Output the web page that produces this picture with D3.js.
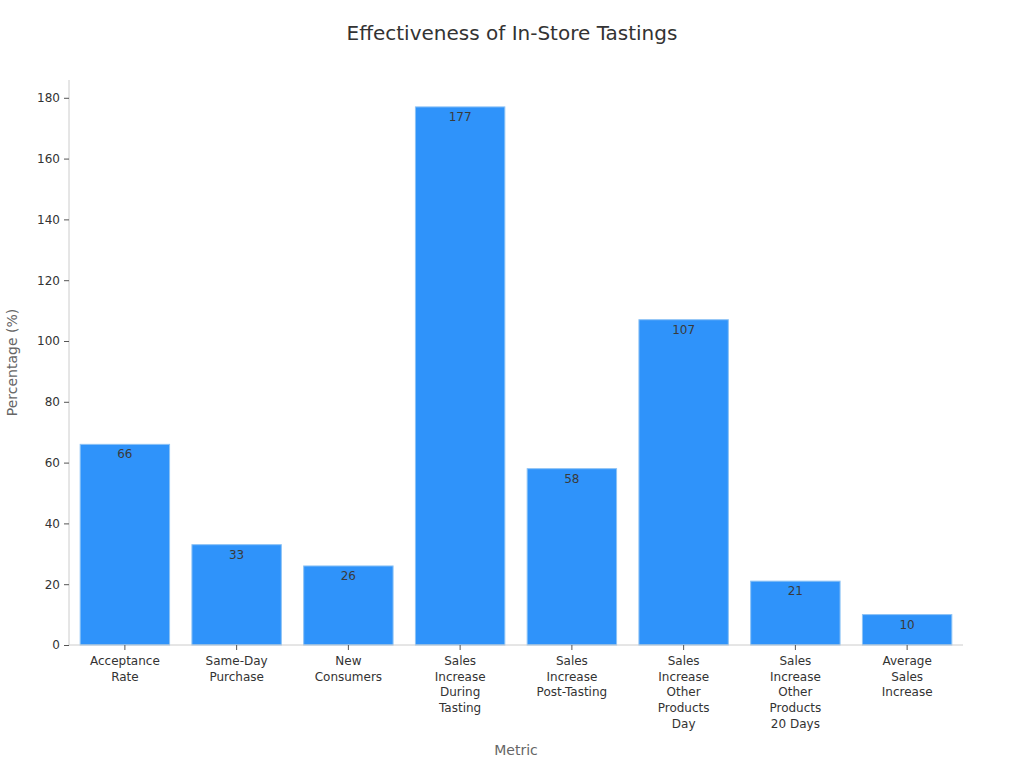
<!DOCTYPE html>
<html>
<head>
<meta charset="utf-8">
<script src="https://cdn.jsdelivr.net/npm/d3@7"></script>
<style>
  body { margin: 0; background: #fff; }
  text { font-family: "DejaVu Sans", sans-serif; }
</style>
</head>
<body>
<div id="chart"></div>
<script>
var categories = ["Acceptance Rate", "Same-Day Purchase", "New Consumers", "Sales Increase During Tasting",
  "Sales Increase Post-Tasting", "Sales Increase Other Products Day", "Sales Increase Other Products 20 Days",
  "Average Sales Increase"];
// tick label lines, as they wrap under each bar
var tickLines = [
  ["Acceptance", "Rate"],
  ["Same-Day", "Purchase"],
  ["New", "Consumers"],
  ["Sales", "Increase", "During", "Tasting"],
  ["Sales", "Increase", "Post-Tasting"],
  ["Sales", "Increase", "Other", "Products", "Day"],
  ["Sales", "Increase", "Other", "Products", "20 Days"],
  ["Average", "Sales", "Increase"]
];
var values = [66, 33, 26, 177, 58, 107, 21, 10];
var yTicks = [0, 20, 40, 60, 80, 100, 120, 140, 160, 180];

var svgWidth = 1024;
var svgHeight = 768;
var margin = { top: 80, right: 61, bottom: 123, left: 69 };
var width = svgWidth - margin.left - margin.right;
var height = svgHeight - margin.top - margin.bottom;

var svg = d3.select("#chart")
  .append("svg")
  .attr("width", svgWidth)
  .attr("height", svgHeight);

var chart = svg.append("g")
  .attr("transform", `translate(${margin.left}, ${margin.top})`);

var x = d3.scaleBand()
  .domain(categories)
  .range([0, width])
  .paddingInner(0.2)
  .paddingOuter(0.1);

var y = d3.scaleLinear()
  .domain([0, d3.max(values) * 1.05])
  .range([height, 0]);

// bars
chart.selectAll("rect.bar")
  .data(values)
  .enter()
  .append("rect")
  .attr("class", "bar")
  .attr("x", (d, i) => x(categories[i]))
  .attr("y", d => y(d))
  .attr("width", x.bandwidth())
  .attr("height", d => height - y(d))
  .attr("fill", "#2f93fa")
  .attr("stroke", "#8cc2f5")
  .attr("stroke-width", 1);

chart.selectAll("text.val")
  .data(values)
  .enter()
  .append("text")
  .attr("class", "val")
  .attr("x", (d, i) => x(categories[i]) + x.bandwidth() / 2)
  .attr("y", d => y(d) + 14)
  .attr("text-anchor", "middle")
  .attr("font-size", "12px")
  .attr("fill", "#3a3a3a")
  .text(d => d);

// axes
var yAxis = chart.append("g")
  .call(d3.axisLeft(y).tickValues(yTicks).tickSize(5).tickPadding(4));
yAxis.select(".domain").attr("stroke", "#ccc").attr("d", `M0,0V${height}`);
yAxis.selectAll(".tick line").attr("stroke", "#555");
yAxis.selectAll(".tick text").attr("font-size", "12px").attr("fill", "#333")
  .style("font-family", "DejaVu Sans");

var xAxis = chart.append("g")
  .attr("transform", `translate(0, ${height})`)
  .call(d3.axisBottom(x).tickSize(5).tickPadding(6));
xAxis.select(".domain").attr("stroke", "#ccc").attr("d", `M0,0H${width}`);
xAxis.selectAll(".tick line").attr("stroke", "#555");
xAxis.selectAll(".tick text").each(function(d, i) {
  var t = d3.select(this);
  var yPos = t.attr("y");
  t.text(null)
    .attr("font-size", "12px")
    .attr("fill", "#333")
    .style("font-family", "DejaVu Sans");
  tickLines[i].forEach(function(l, j) {
    t.append("tspan")
      .attr("x", 0)
      .attr("y", yPos)
      .attr("dy", (0.75 + j * 1.31) + "em")
      .text(l);
  });
});

// titles
svg.append("text")
  .attr("x", svgWidth / 2)
  .attr("y", 40)
  .attr("text-anchor", "middle")
  .attr("font-size", "20px")
  .attr("fill", "#333")
  .text("Effectiveness of In-Store Tastings");

svg.append("text")
  .attr("transform", `translate(17, ${margin.top + height / 2}) rotate(-90)`)
  .attr("text-anchor", "middle")
  .attr("font-size", "14px")
  .attr("fill", "#666")
  .text("Percentage (%)");

svg.append("text")
  .attr("x", margin.left + width / 2)
  .attr("y", 755)
  .attr("text-anchor", "middle")
  .attr("font-size", "14px")
  .attr("fill", "#666")
  .text("Metric");
</script>
</body>
</html>
